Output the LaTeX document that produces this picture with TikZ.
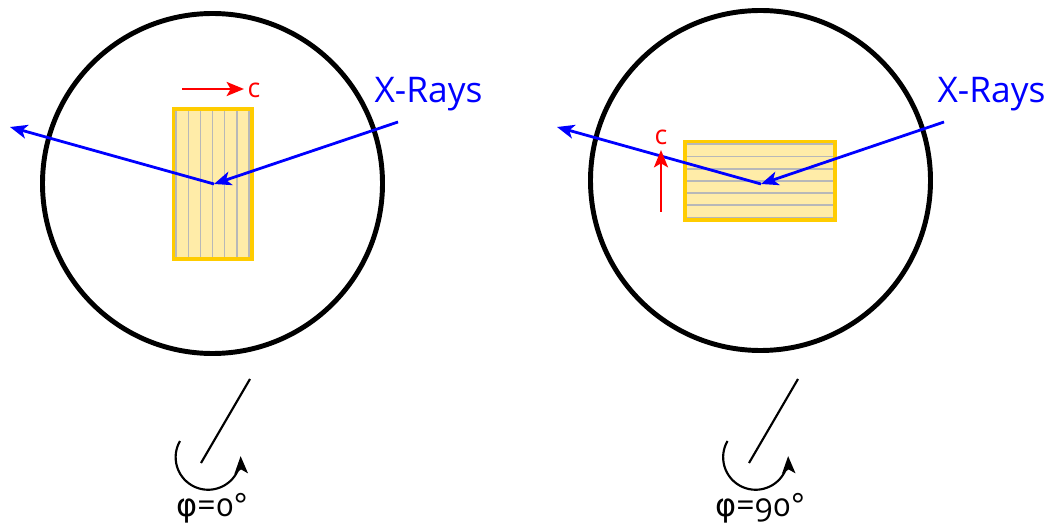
\documentclass[tikz,border=0pt]{standalone}
\usepackage{fontspec}
\setmainfont[Numbers=OldStyle]{Open Sans}
\newfontfamily\symfont{DejaVu Sans}
\usetikzlibrary{arrows.meta}
\definecolor{crystalfill}{HTML}{FFECA8}
\definecolor{crystaledge}{HTML}{FFCC00}
\definecolor{planeline}{HTML}{B8B8B8}
\tikzset{
  x=0.75pt,y=-0.75pt,
  ring/.style={circle,draw=black,line width=3.7pt,minimum size=255pt,inner sep=0pt,outer sep=0pt},
  crystal/.style={rectangle,draw=crystaledge,fill=crystalfill,line width=3.2pt,inner sep=0pt,outer sep=0pt},
  plane/.style={draw=planeline,line width=1pt},
  ray/.style={draw=blue,line width=2.1pt,-{Stealth[length=13pt,width=10.5pt,inset=3.5pt]}},
  caxis/.style={draw=red,line width=2.1pt,-{Stealth[length=13pt,width=10.5pt,inset=3pt]}},
  axisline/.style={draw=black,line width=1.6pt},
  spin/.style={draw=black,line width=1.6pt,-{Stealth[length=13pt,width=10pt,inset=3pt]}},
  xlabel/.style={text=blue,font=\fontsize{26.5}{26.5}\selectfont,inner sep=0pt},
  clabel/.style={text=red,font=\fontsize{20}{20}\selectfont,inner sep=0pt},
  philabel/.style={text=black,font=\fontsize{24}{24}\selectfont,inner sep=0pt},
}
\begin{document}
\begin{tikzpicture}
\useasboundingbox (0,0) rectangle (1050,524);
% left
\node[ring] (ringA) at (212.5,183.5) {};
\node[crystal,minimum width=58.5pt,minimum height=112.5pt] (crysA) at (213,184) {};
\foreach \p in {176,188.5,200.5,212.5,224.5,237,249}
  \draw[plane] (\p,111) -- (\p,257);
\coordinate (inA) at (398,122);
\coordinate (hitA) at (214,184);
\coordinate (outA) at (10,127);
\draw[ray] (inA) -- (hitA);
\draw[ray] (hitA) -- (outA);
\coordinate (cA0) at (182,89);
\coordinate (cA1) at (244,89);
\draw[caxis] (cA0) -- (cA1);
\node[clabel] (cLabA) at (254,90) {c};
\node[xlabel] (xA) at (428.5,94) {X-Rays};
\coordinate (axA0) at (250,379);
\coordinate (axA1) at (201,463);
\draw[axisline] (axA0) -- (axA1);
\draw[spin] (180,441) arc[start angle=210,end angle=-2,radius=32.5];
\node[philabel] (phiA) at (212,508) {{\symfont φ}=0°};
% right
\node[ring] (ringB) at (760.5,180.5) {};
\node[crystal,minimum width=112.5pt,minimum height=58.5pt] (crysB) at (760,181) {};
\foreach \p in {144,156.5,169,181,193,205,217.5}
  \draw[plane] (687,\p) -- (833,\p);
\coordinate (inB) at (944,122);
\coordinate (hitB) at (761,184);
\coordinate (outB) at (557,127);
\draw[ray] (inB) -- (hitB);
\draw[ray] (hitB) -- (outB);
\coordinate (cB0) at (661,212);
\coordinate (cB1) at (661,150);
\draw[caxis] (cB0) -- (cB1);
\node[clabel] (cLabB) at (661,137) {c};
\node[xlabel] (xB) at (991.5,94) {X-Rays};
\coordinate (axB0) at (798,379);
\coordinate (axB1) at (749,463);
\draw[axisline] (axB0) -- (axB1);
\draw[spin] (727.5,441) arc[start angle=210,end angle=-2,radius=32.5];
\node[philabel] (phiB) at (760,508) {{\symfont φ}=90°};
\end{tikzpicture}
\end{document}
